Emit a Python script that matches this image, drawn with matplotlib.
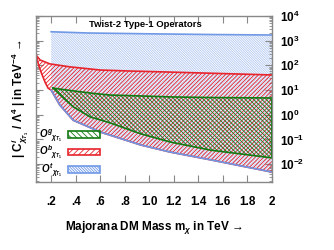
import numpy as np
import matplotlib
matplotlib.use("Agg")
import matplotlib.pyplot as plt
from matplotlib.patches import Patch

# --- data (mass in TeV, |C/Lambda^4| in TeV^-4) ---
top_up_mass = [0.2, 0.5, 1.0, 1.5, 2.0]
top_up_val = [2300, 2050, 1900, 1780, 1700]
top_lo_mass = [0.2, 0.27, 0.38, 0.52, 0.60, 0.68, 0.93, 1.17, 1.5, 2.0]
top_lo_val = [10, 2.5, 0.6, 0.3, 0.2, 0.15, 0.06, 0.031, 0.015, 0.0048]

bot_up_mass = [0.077, 0.11, 0.19, 0.355, 0.6, 0.85, 1.15, 2.0]
bot_up_val = [263, 165, 115, 87, 65, 59, 54, 41]
bot_lo_mass = [0.077, 0.1, 0.12, 0.15, 0.175] + top_lo_mass
bot_lo_val = [240, 95, 50, 21, 12] + top_lo_val

glu_mass = [0.216, 0.3, 0.38, 0.52, 0.60, 0.68, 0.93, 1.17, 1.5, 2.0]
glu_up_val = [12, 10.5, 9.3, 7.6, 6.9, 6.3, 5.8, 5.3, 5.0, 4.8]
glu_lo_val = [12, 4.8, 2.1, 0.81, 0.62, 0.47, 0.17, 0.079, 0.037, 0.018]

x_ticks = [0.2, 0.4, 0.6, 0.8, 1.0, 1.2, 1.4, 1.6, 1.8, 2.0]
x_labels = [".2", ".4", ".6", ".8", "1.0", "1.2", "1.4", "1.6", "1.8", "2"]
y_ticks = [1e-2, 1e-1, 1e0, 1e1, 1e2, 1e3, 1e4]
y_labels = [r"$10^{-2}$", r"$10^{-1}$", r"$10^{0}$", r"$10^{1}$",
            r"$10^{2}$", r"$10^{3}$", r"$10^{4}$"]

blue = "#6f98e6"
blue_h = "#b4c9f2"
red = "#e8232b"
green = "#127a12"

plt.rcParams["font.family"] = ["Liberation Sans", "DejaVu Sans"]
plt.rcParams["font.weight"] = "bold"
plt.rcParams["mathtext.fontset"] = "custom"
plt.rcParams["mathtext.rm"] = "Liberation Sans:bold"
plt.rcParams["mathtext.bf"] = "Liberation Sans:bold"
plt.rcParams["mathtext.it"] = "Liberation Sans:italic:bold"
plt.rcParams["hatch.linewidth"] = 0.6

fig = plt.figure(figsize=(3.34, 2.5), dpi=100)
ax = fig.add_axes([0.108, 0.272, 0.706, 0.664])
ax.set_yscale("log")

def band(xu, yu, xl, yl, col, hatch, z):
    xs = np.concatenate([xu, xl[::-1]])
    ys = np.concatenate([yu, yl[::-1]])
    ax.fill(xs, ys, facecolor="none", edgecolor=col, hatch=hatch, lw=0, zorder=z)

band(np.array(top_up_mass), np.array(top_up_val), np.array(top_lo_mass),
     np.array(top_lo_val), blue_h, "\\" * 14, 1)
band(np.array(bot_up_mass), np.array(bot_up_val), np.array(bot_lo_mass),
     np.array(bot_lo_val), red, "/" * 8, 2)
band(np.array(glu_mass), np.array(glu_up_val), np.array(glu_mass),
     np.array(glu_lo_val), green, "\\" * 8, 3)

lw = 1.2
ax.plot(top_up_mass, top_up_val, color=blue, lw=lw, zorder=4)
ax.plot(bot_up_mass, bot_up_val, color=red, lw=lw, zorder=4)
ax.plot(bot_lo_mass, bot_lo_val, color=red, lw=lw, zorder=4)
ax.plot(top_lo_mass, top_lo_val, color=blue, lw=lw, zorder=5)
ax.plot(glu_mass + glu_mass[::-1], glu_up_val + glu_lo_val[::-1],
        color=green, lw=lw, zorder=6)

ax.set_xlim(0.077, 2.0)
ax.set_ylim(1.9e-3, 1e4)
ax.set_xticks(x_ticks)
ax.set_xticklabels(x_labels)
ax.set_yticks(y_ticks)
ax.set_yticklabels(y_labels)
ax.xaxis.set_minor_locator(matplotlib.ticker.NullLocator())
ax.tick_params(which="both", direction="in", left=True, right=True, top=True,
               labelleft=False, labelright=True, colors="#888888",
               labelcolor="black", labelsize=8.5)
ax.tick_params(axis="x", which="major", length=5, pad=10)
ax.tick_params(axis="y", which="major", length=5, pad=6)
ax.tick_params(axis="y", which="minor", length=2.5)
for s in ax.spines.values():
    s.set_color("#888888")
    s.set_linewidth(1.0)
    s.set_zorder(8)

ax.set_xlabel(r"Majorana DM Mass m$_{\chi}$ in TeV →", fontsize=8.5,
              fontweight="bold", labelpad=8)
ax.set_ylabel(r"| C$^{i}_{\chi_{T_1}}$ / Λ$^{4}$ | in TeV$^{-4}$ →",
              fontsize=8.5, fontweight="bold", labelpad=4)

ax.text(0.225, 0.946, "Twist-2 Type-1 Operators", transform=ax.transAxes,
        fontsize=6.8, fontweight="bold", va="center", ha="left", zorder=7)

handles = [
    Patch(facecolor="white", edgecolor=green, hatch="\\" * 6, lw=1.2),
    Patch(facecolor="white", edgecolor=red, hatch="/" * 6, lw=1.2),
    Patch(facecolor="white", edgecolor=blue, hatch="\\" * 12, lw=1.2),
]
labels = [r"$O^{g}{}_{\chi_{T_1}}$", r"$O^{b}{}_{\chi_{T_1}}$",
          r"$O^{t}{}_{\chi_{T_1}}$"]
ax.legend(handles, labels, loc="lower left", bbox_to_anchor=(0.0, 0.0),
          markerfirst=False, frameon=False, fontsize=7, handlelength=3.3,
          handleheight=0.7, labelspacing=0.0, handletextpad=0.6,
          borderaxespad=0.1, borderpad=0.2)

fig.savefig("out.png", dpi=100)
